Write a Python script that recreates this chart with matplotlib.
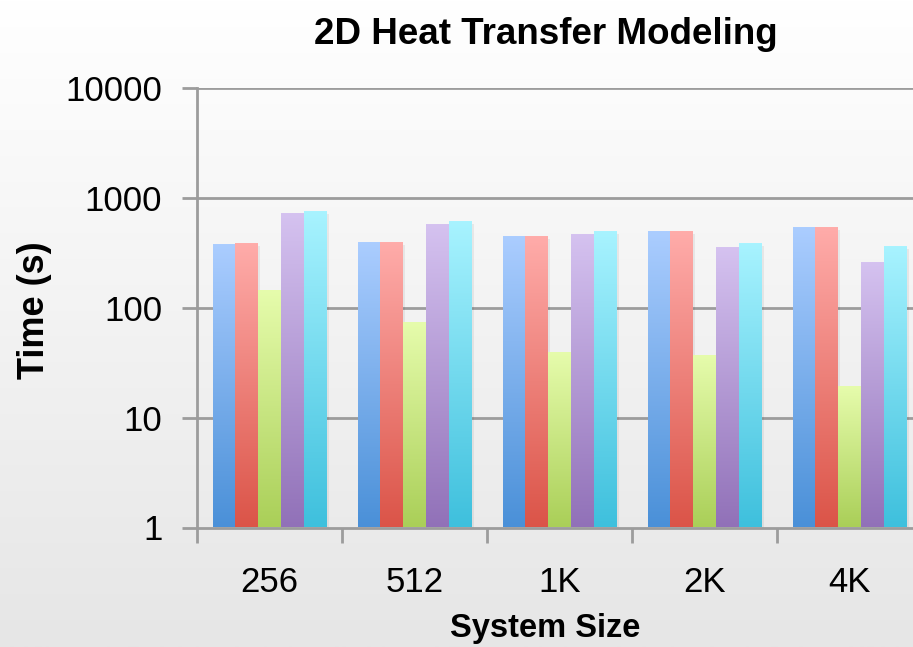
import numpy as np
import matplotlib
matplotlib.use("Agg")
import matplotlib.pyplot as plt
from matplotlib.colors import LinearSegmentedColormap

plt.rcParams['font.family'] = ['Liberation Sans', 'DejaVu Sans']

sizes = ["256", "512", "1K", "2K", "4K"]
series_a = [374, 390, 442, 491, 534]
series_b = [380, 390, 442, 491, 534]
series_c = [143, 73, 39, 36.6, 19.1]
series_d = [711, 568, 461, 351, 257]
series_e = [746, 605, 491, 382, 359]
series = [series_a, series_b, series_c, series_d, series_e]

# (top colour, bottom colour) for each series gradient
grads = [("#abcdff", "#4a90d8"),
         ("#ffacaa", "#db5448"),
         ("#e6fcac", "#aacf58"),
         ("#d5c2f0", "#9171b8"),
         ("#a8f3ff", "#3ec0dd")]

W, H = 913, 647
fig = plt.figure(figsize=(W / 100, H / 100), dpi=100)

# figure background gradient
bg = fig.add_axes([0, 0, 1, 1], zorder=-10)
bg_cmap = LinearSegmentedColormap.from_list("bg", ["#ffffff", "#e6e6e6"])
bg.imshow(np.linspace(0, 1, 256).reshape(-1, 1), cmap=bg_cmap, aspect='auto',
          extent=(0, 1, 0, 1), origin='upper')
bg.axis('off')

left, right = 197, 922
bottom, top = 527.5, 88
ax = fig.add_axes([left / W, (H - bottom) / H, (right - left) / W, (bottom - top) / H])
ax.patch.set_alpha(0)
ax.set_yscale('log')
ax.set_ylim(1, 10000)
ax.set_xlim(-0.5, len(sizes) - 0.5)

grid_col = "#9c9c9c"
for v in [10, 100, 1000, 10000]:
    ax.axhline(v, color=grid_col, lw=2, zorder=0)

n = len(series)
bw = 0.157
x = np.arange(len(sizes))
grad = np.linspace(0, 1, 256).reshape(-1, 1)
for i, (vals, (ctop, cbot)) in enumerate(zip(series, grads)):
    cmap = LinearSegmentedColormap.from_list(f"g{i}", [ctop, cbot])
    pos = x + (i - (n - 1) / 2) * bw
    for xp, v in zip(pos, vals):
        x0 = (xp - bw / 2 + 0.5) / len(sizes)
        x1 = (xp + bw / 2 + 0.5) / len(sizes)
        yt = np.log10(v) / 4
        # soft shadow
        ax.add_patch(plt.Rectangle((x0 + 0.003, 0), x1 - x0, yt - 0.004,
                                   transform=ax.transAxes, color="#000000",
                                   alpha=0.06, lw=0, zorder=1))
        ax.imshow(grad, cmap=cmap, aspect='auto', extent=(x0, x1, 0, yt),
                  transform=ax.transAxes, origin='upper', zorder=2)
ax.set_xlim(-0.5, len(sizes) - 0.5)
ax.set_ylim(1, 10000)

for s in ['top', 'right']:
    ax.spines[s].set_visible(False)
for s in ['left', 'bottom']:
    ax.spines[s].set_color(grid_col)
    ax.spines[s].set_linewidth(2)
    ax.spines[s].set_zorder(3)

ax.set_yticks([1, 10, 100, 1000, 10000])
ax.set_yticklabels(["1", "10", "100", "1000", "10000"])
ax.yaxis.set_minor_locator(matplotlib.ticker.NullLocator())
ax.set_xticks(np.arange(len(sizes) + 1) - 0.5, minor=True)
ax.set_xticks(x)
ax.set_xticklabels(sizes)
ax.tick_params(axis='x', which='major', length=0, pad=28, labelsize=25)
ax.tick_params(axis='x', which='minor', length=11, width=2, color=grid_col, direction='out')
ax.tick_params(axis='y', length=11, width=2, color=grid_col, labelsize=25, pad=14)

fig.text(546 / W, 1 - 34 / H, "2D Heat Transfer Modeling", ha='center', va='center',
         fontsize=26.5, fontweight='bold')
fig.text(545 / W, 1 - 629 / H, "System Size", ha='center', va='center',
         fontsize=23.5, fontweight='bold')
fig.text(35 / W, 1 - 310 / H, "Time (s)", ha='center', va='center', rotation=90,
         fontsize=26, fontweight='bold')

fig.savefig("out.png", dpi=100)
